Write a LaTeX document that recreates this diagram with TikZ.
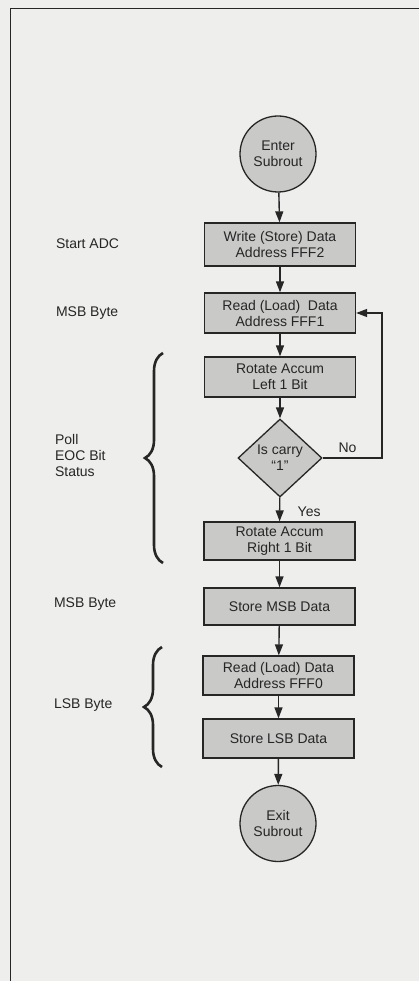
\documentclass[tikz,border=0pt]{standalone}
\usepackage{fontspec}
\setmainfont{Liberation Sans}
\usetikzlibrary{arrows.meta,shapes.geometric,decorations.pathreplacing}
\definecolor{ink}{HTML}{262626}
\definecolor{paper}{HTML}{EEEEEC}
\definecolor{boxfill}{HTML}{C9C9C7}

\begin{document}
\begin{tikzpicture}[x=1pt, y=-1pt,
    line width=1.4pt, >={Triangle[length=11pt,width=8pt]},
    color=ink,
    every node/.style={font=\fontsize{14}{16}\selectfont, text=ink},
    stepbox/.style={draw=ink, fill=boxfill, line width=1.3pt, minimum width=151pt,
      minimum height=40pt, align=center, inner sep=2pt},
    term/.style={circle, draw=ink, fill=boxfill, line width=1.3pt, minimum size=76pt,
      inner sep=0pt, align=center},
    test/.style={diamond, draw=ink, fill=boxfill, line width=1.3pt, minimum width=84pt,
      minimum height=78pt, inner sep=0pt, align=center},
    side/.style={anchor=west, align=left},
    curly/.style={decorate, decoration={brace, amplitude=18pt, aspect=0.5}, line width=2.6pt}]
  % fixed 419 x 981 canvas
  \fill[paper] (0,0) rectangle (419,981);
  \path[use as bounding box] (0,0) rectangle (419,981);
  \draw[line width=1pt] (419,9) -- (10,9) -- (10,981);

  % ================= flow chart =================
  \node[term] (enter) at (278,154) {Enter\\Subrout};
  \node[stepbox, minimum height=43pt] (wr) at (280,244.5) {Write (Store) Data\\Address FFF2};
  \node[stepbox] (rd) at (280,313) {Read (Load)\ \ Data\\Address FFF1};
  \node[stepbox] (rotl) at (280,377) {Rotate Accum\\Left 1 Bit};
  \node[test] (carry) at (280,458) {Is carry\\``1''};
  \node[stepbox, minimum height=38pt] (rotr) at (279.5,541) {Rotate Accum\\Right 1 Bit};
  \node[stepbox, minimum height=37pt] (smsb) at (279.5,606.5) {Store MSB Data};
  \node[stepbox, minimum height=39pt] (rdl) at (278.5,675.5) {Read (Load) Data\\Address FFF0};
  \node[stepbox, minimum height=39pt] (slsb) at (278.5,738.5) {Store LSB Data};
  \node[term] (exit) at (278,823.5) {Exit\\Subrout};

  \draw[->] (enter) -- (wr);
  \draw[->] (wr) -- (rd);
  \draw[->] (rd) -- (rotl);
  \draw[->] (rotl) -- (carry);
  \draw[->] (carry) -- node[right, xshift=14pt, yshift=-2pt] {Yes} (rotr);
  \draw[->] (rotr) -- (smsb);
  \draw[->] (smsb) -- (rdl);
  \draw[->] (rdl) -- (slsb);
  \draw[->] (slsb) -- (exit);
  % "No" branch back to the read step
  \coordinate (loop) at (382,458);
  \draw[->, line width=1.2pt] (carry.east) -- node[above, pos=0.42, yshift=1pt] {No} (loop) |- (rd.east);

  % ================= left-hand notes =================
  \node[side] (lstart) at (52,244) {Start ADC};
  \node[side] (lmsb) at (52,313) {MSB Byte};
  \node[side] (lpoll) at (51,455) {Poll\\EOC Bit\\Status};
  \node[side] (lmsbb) at (50,604) {MSB Byte};
  \node[side] (llsb) at (50,705) {LSB Byte};
  \draw[curly] (163,563) -- (163,353);
  \draw[curly] (162,767) -- (162,647);
\end{tikzpicture}
\end{document}
